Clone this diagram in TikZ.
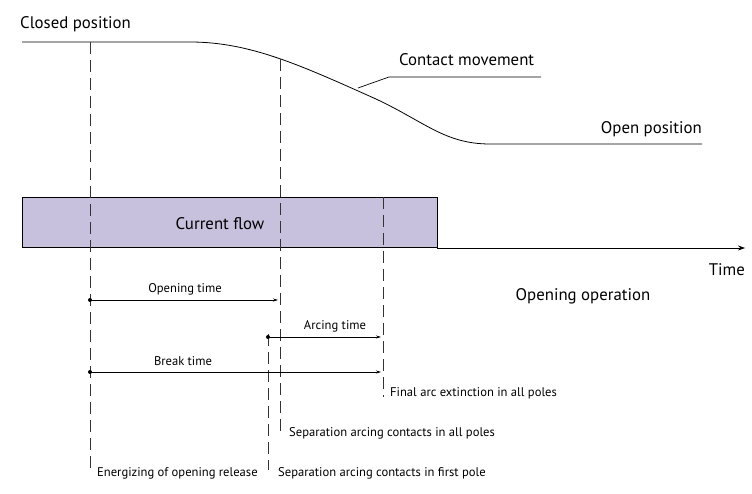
\documentclass[tikz,border=0pt]{standalone}
\usepackage{fontspec}
\setmainfont{PT Sans}
\usetikzlibrary{arrows.meta}
\definecolor{flow}{HTML}{C8C1DD}
\tikzset{
  guide/.style={draw=black!80, line width=0.8pt, dash pattern=on 12pt off 6pt},
  big/.style={font=\fontsize{16.8}{20}\selectfont, inner sep=0pt},
  small/.style={font=\fontsize{12.6}{15}\selectfont, inner sep=0pt},
  span/.style={line width=0.7pt, -{Stealth[length=5pt,width=3pt]}},
  dot/.style={circle, fill=black, inner sep=0pt, minimum size=4pt},
}
\begin{document}
\begin{tikzpicture}[x=1pt,y=-1pt]
\useasboundingbox (0,0) rectangle (752,494);
% current flow box
\node[draw=black, line width=0.8pt, fill=flow, minimum width=415pt, minimum height=50pt, anchor=north west, inner sep=0pt] (box) at (22,197) {};
\node[big] (cf) at (220,224) {Current flow};
% time axis
\coordinate (axs) at (437,248);
\coordinate (axe) at (745,248);
\draw[line width=0.8pt, -{Stealth[length=7pt,width=5pt]}] (axs) -- (axe);
\node[big, anchor=base east] (time) at (745,276) {Time};
\node[big, anchor=base] (oo) at (583,301) {Opening operation};
% contact movement curve
\coordinate (c0) at (22,42);
\coordinate (c1) at (190,42);
\coordinate (c2) at (376,99);
\coordinate (c3) at (490,144);
\coordinate (c4) at (702,144);
\draw[line width=0.8pt] (c0) -- (c1) .. controls (250,42) and (300,65) .. (c2) .. controls (425,122) and (445,144) .. (c3) -- (c4);
\node[big, anchor=base west] (closed) at (20,29) {Closed position};
\node[big, anchor=base east] (open) at (702,134) {Open position};
\node[big, anchor=base west] (cm) at (399,66) {Contact movement};
\coordinate (l0) at (358,88);
\coordinate (l1) at (389,77);
\coordinate (l2) at (541,77);
\draw[line width=0.7pt] (l0) -- (l1) -- (l2);
% dashed guide lines
\coordinate (g1t) at (90,42);   \coordinate (g1b) at (90,470);
\coordinate (g2t) at (280,59);  \coordinate (g2b) at (280,436);
\coordinate (g3t) at (268,334); \coordinate (g3b) at (268,470);
\coordinate (g4t) at (383,197); \coordinate (g4b) at (383,397);
\draw[guide] (g1t) -- (g1b);
\draw[guide] (g2t) -- (g2b);
\draw[guide] (g3t) -- (g3b);
\draw[guide] (g4t) -- (g4b);
% time spans
\node[dot] (ot0) at (90,300) {};
\coordinate (ot1) at (278,300);
\draw[span] (ot0.center) -- (ot1);
\node[small] (otl) at (185,289) {Opening time};
\node[dot] (at0) at (268,337) {};
\coordinate (at1) at (381,337);
\draw[span] (at0.center) -- (at1);
\node[small] (atl) at (335,326) {Arcing time};
\node[dot] (bt0) at (90,372) {};
\coordinate (bt1) at (381,372);
\draw[span] (bt0.center) -- (bt1);
\node[small] (btl) at (183,361) {Break time};
% event labels
\node[small, anchor=base west] (fae) at (390,396) {Final arc extinction in all poles};
\node[small, anchor=base west] (sap) at (289,436) {Separation arcing contacts in all poles};
\node[small, anchor=base west] (eor) at (97,476) {Energizing of opening release};
\node[small, anchor=base west] (sfp) at (278,476) {Separation arcing contacts in first pole};
\end{tikzpicture}
\end{document}
